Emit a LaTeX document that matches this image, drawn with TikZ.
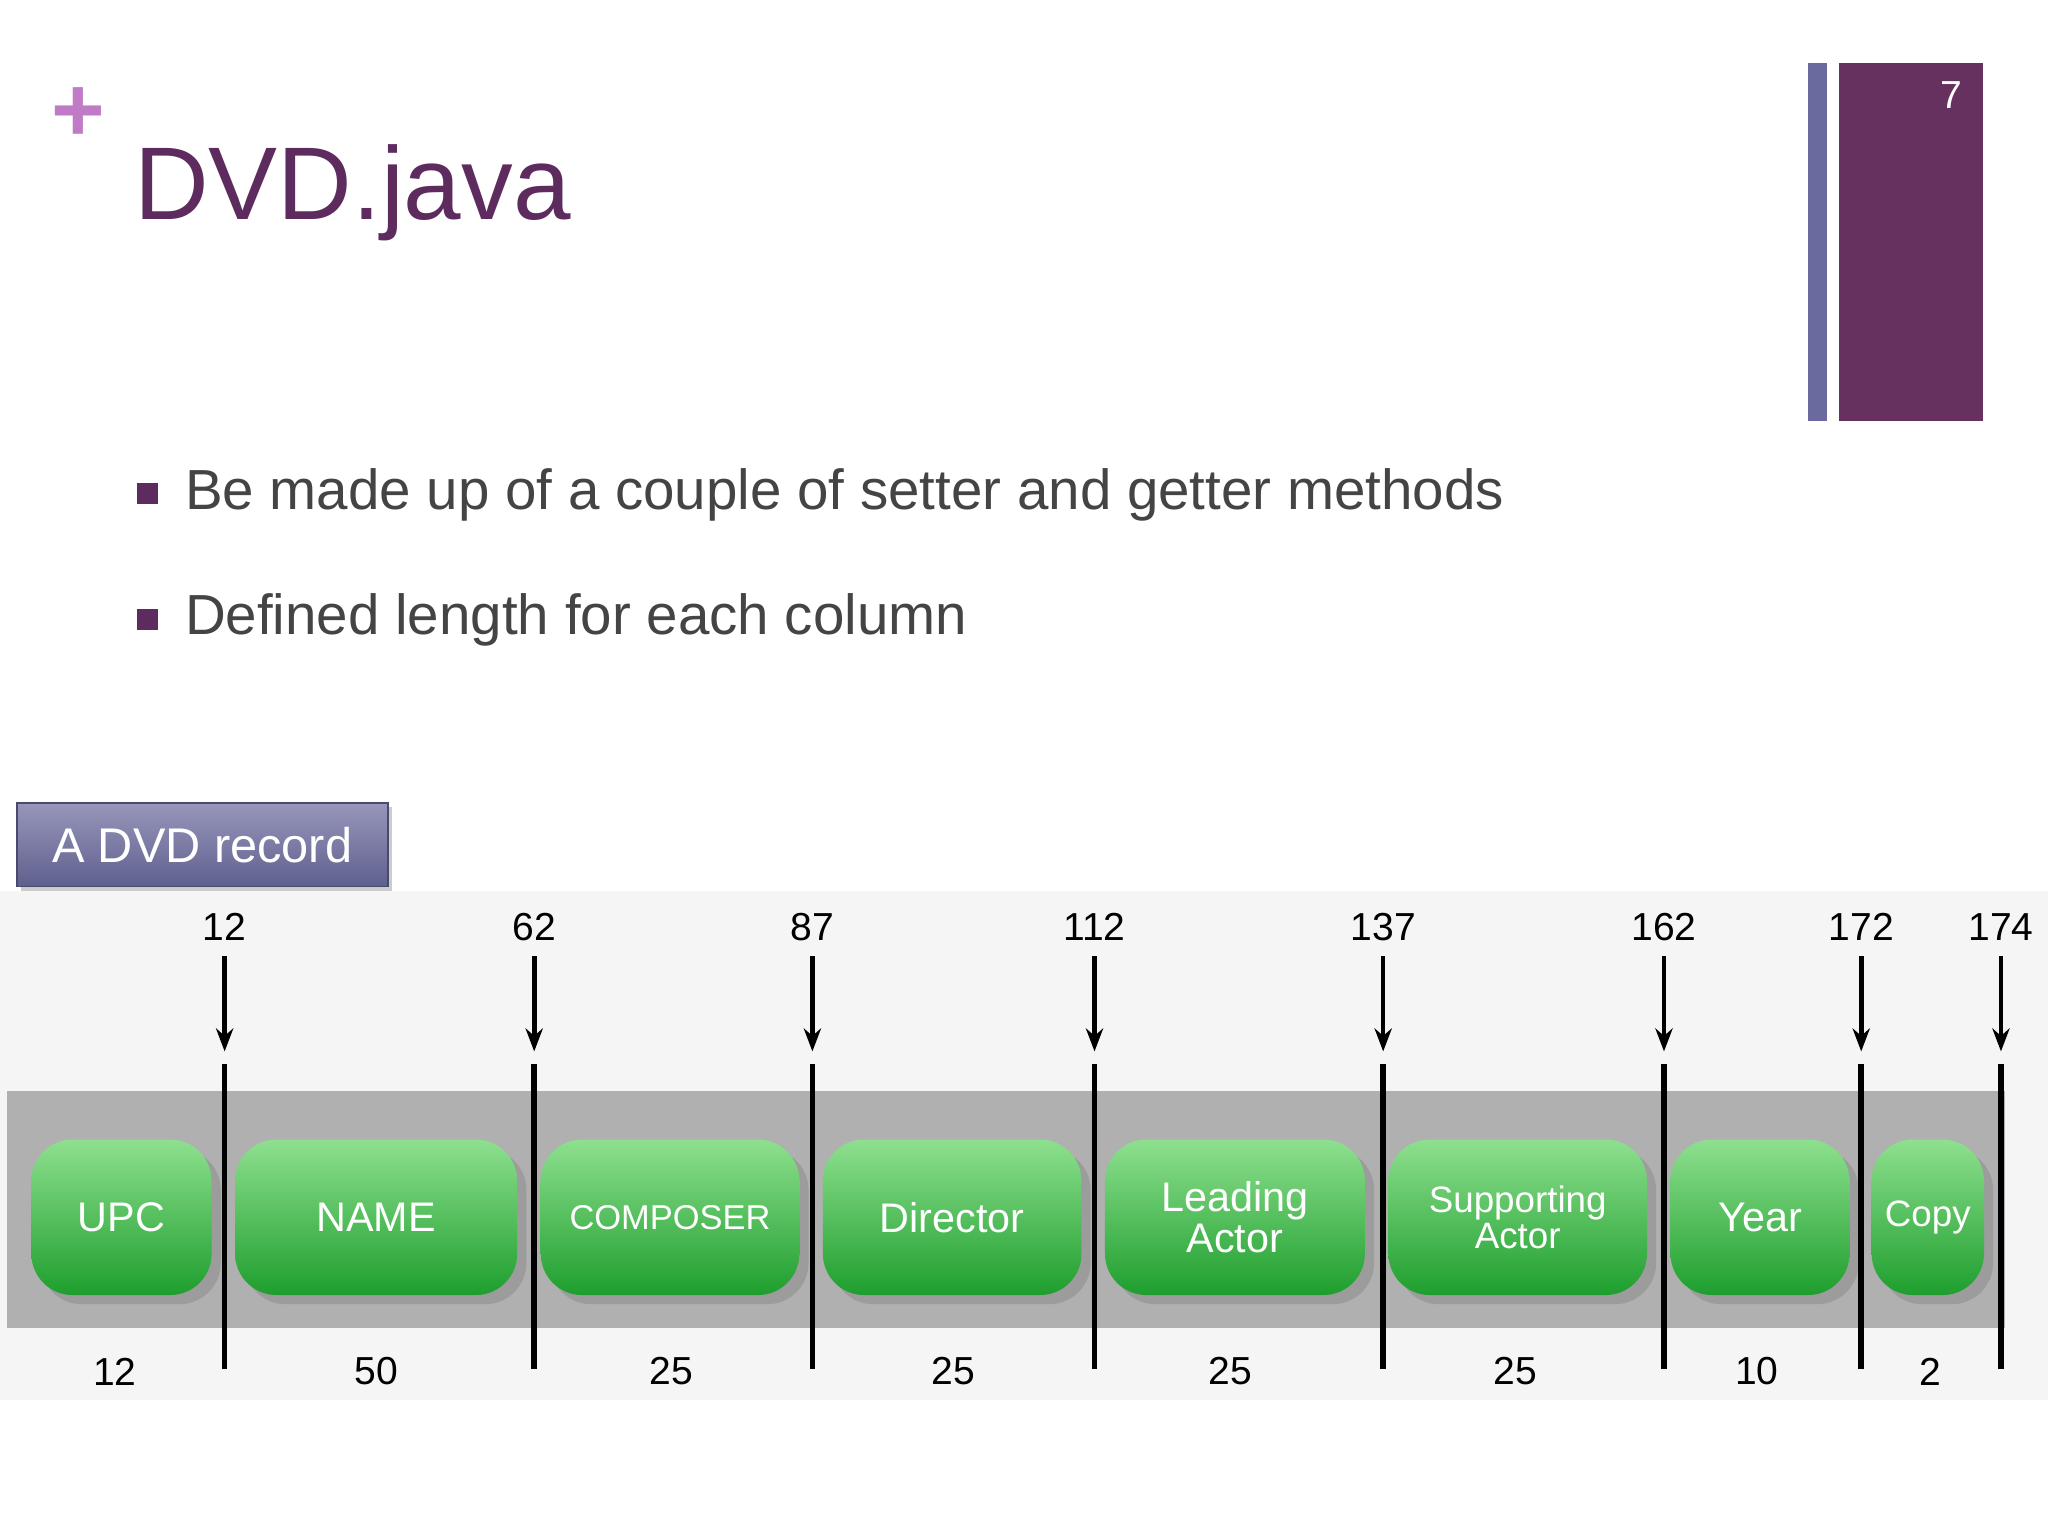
\documentclass[tikz,border=0pt]{standalone}
\usepackage{fontspec}
\setmainfont{Liberation Sans}
\usetikzlibrary{arrows.meta,shadows}
\definecolor{titlec}{HTML}{5E2B5E}
\definecolor{plusc}{HTML}{C07BC7}
\definecolor{barA}{HTML}{6A6A9E}
\definecolor{barB}{HTML}{66305F}
\definecolor{txt}{HTML}{444444}
\definecolor{greenL}{HTML}{8EE08E}
\definecolor{greenD}{HTML}{1E9E2E}
\tikzset{
 fld/.style={rounded corners=9pt,draw=none,top color=greenL,bottom color=greenD,inner sep=0pt,
   minimum height=1.19cm,text=white,font=\fontsize{9}{10}\selectfont,align=center,
   drop shadow={shadow xshift=2pt,shadow yshift=-2pt,opacity=.4}},
 num/.style={font=\fontsize{8.5}{9}\selectfont,text=black},
 vline/.style={line width=1.2pt,black},
 arr/.style={line width=1pt,-{Stealth[length=5pt]}}
}
\begin{document}
\begin{tikzpicture}[x=0.01cm,y=-0.01cm]
\useasboundingbox[fill=white] (0,0) rectangle (1568,1176);
\node[text=plusc,font=\bfseries\fontsize{20}{20}\selectfont] (plus) at (60,88) {+};
\node[anchor=base west,text=titlec,font=\fontsize{22.5}{26}\selectfont,inner sep=0] (title) at (102,168) {DVD.java};
\fill[barA] (1384,48) rectangle (1399,322);
\fill[barB] (1408,48) rectangle (1518,322);
\node[text=white,font=\fontsize{8.5}{9}\selectfont] (pg) at (1494,73) {7};
\fill[titlec] (105,370) rectangle (121,386);
\node[anchor=base west,text=txt,font=\fontsize{12.3}{14}\selectfont,inner sep=0] (b1) at (141,390) {Be made up of a couple of setter and getter methods};
\fill[titlec] (105,466) rectangle (121,482);
\node[anchor=base west,text=txt,font=\fontsize{12.3}{14}\selectfont,inner sep=0] (b2) at (141,486) {Defined length for each column};
\fill[gray!8] (0,682) rectangle (1568,1072);
\fill[gray!62] (5,835) rectangle (1535,1017);
\node[draw=barA!70!black,top color=barA!70,bottom color=barA!90!black,text=white,inner sep=0pt,
  font=\fontsize{10.6}{12}\selectfont,minimum width=2.84cm,minimum height=0.64cm,anchor=north west,
  drop shadow={shadow xshift=1pt,shadow yshift=-1pt,opacity=.4}] (rec) at (12,614) {A DVD record};
\foreach \a/\b/\t/\n/\s in {24/162/UPC/f1/9,180/396/NAME/f2/9,414/612/COMPOSER/f3/7.5,630/828/Director/f4/9,
  846/1045/{Leading\\Actor}/f5/9,1063/1261/{Supporting\\Actor}/f6/8,1279/1416/Year/f7/9,1433/1519/Copy/f8/8}{
  \node[fld,minimum width={(\b-\a)*0.01cm},font=\fontsize{\s}{\s pt}\selectfont] (\n) at ({(\a+\b)/2},932) {\t};
}
\foreach \x/\t/\n in {172/12/l1,409/62/l2,622/87/l3,838/112/l4,1059/137/l5,1274/162/l6,1425/172/l7,1532/174/l8}{
  \coordinate (\n top) at (\x,815);
  \coordinate (\n bot) at (\x,1048);
  \draw[vline] (\n top) -- (\n bot);
  \node[num] (\n lab) at (\x,710) {\t};
  \coordinate (\n a) at (\x,732);
  \coordinate (\n b) at (\x,805);
  \draw[arr] (\n a) -- (\n b);
}
\foreach \x/\t/\n in {88/12/w1,288/50/w2,514/25/w3,730/25/w4,942/25/w5,1160/25/w6,1345/10/w7,1478/2/w8}{
  \node[num] (\n) at (\x,1050) {\t};
}
\end{tikzpicture}
\end{document}
